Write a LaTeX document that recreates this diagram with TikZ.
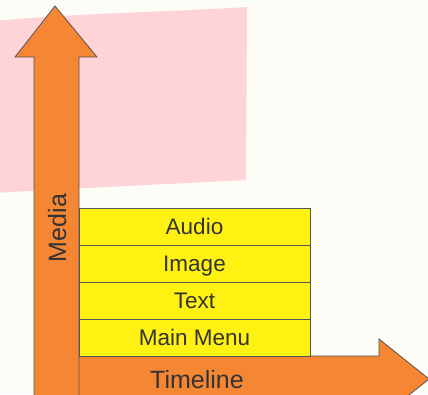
\documentclass[tikz,border=0pt]{standalone}
\usepackage{fontspec}
\setmainfont{Liberation Sans}
\definecolor{bgc}{HTML}{FDFDF8}
\definecolor{flagc}{HTML}{FFD4D8}
\definecolor{arrowc}{HTML}{F48634}
\definecolor{boxc}{HTML}{FFF212}
\definecolor{linec}{HTML}{555555}
\definecolor{txtc}{HTML}{333333}
\tikzset{
  arrowshape/.style={fill=arrowc, draw=linec, line width=0.8pt, line join=miter},
  layerbox/.style={fill=boxc, draw=linec, line width=0.8pt, minimum width=231pt, minimum height=37pt, inner sep=0pt, text height=16pt, text depth=0pt, text=txtc, font=\fontsize{22.5}{26}\selectfont},
  axislabel/.style={text=txtc, font=\fontsize{25}{29}\selectfont, inner sep=0pt, text height=18pt, text depth=0pt}
}
\begin{document}
\begin{tikzpicture}[x=1pt,y=-1pt]
\useasboundingbox (0,0) rectangle (428,394);
\fill[bgc] (0,0) rectangle (428,394);
% pink flag
\fill[flagc] (-5,21) .. controls (80,13) and (170,12) .. (247,7)
  -- (246,180) .. controls (170,184) and (80,188) .. (-5,193) -- cycle;
% horizontal arrow
\draw[arrowshape] (60,356) -- (379,356) -- (379,339) -- (429,379) -- (379,419) -- (379,402) -- (60,402) -- cycle;
% vertical arrow
\draw[arrowshape] (34,410) -- (34,57) -- (15,57) -- (55,6) -- (97,57) -- (79,57) -- (79,410) -- cycle;
% boxes
\node[layerbox] (mainmenu) at (194.5,337.5) {Main Menu};
\node[layerbox] (text) at (194.5,300.5) {Text};
\node[layerbox] (image) at (194.5,263.5) {Image};
\node[layerbox] (audio) at (194.5,226.5) {Audio};
% axis labels
\node[axislabel, rotate=90] (media) at (57,228) {Media};
\node[axislabel] (timeline) at (197,379) {Timeline};
\end{tikzpicture}
\end{document}
